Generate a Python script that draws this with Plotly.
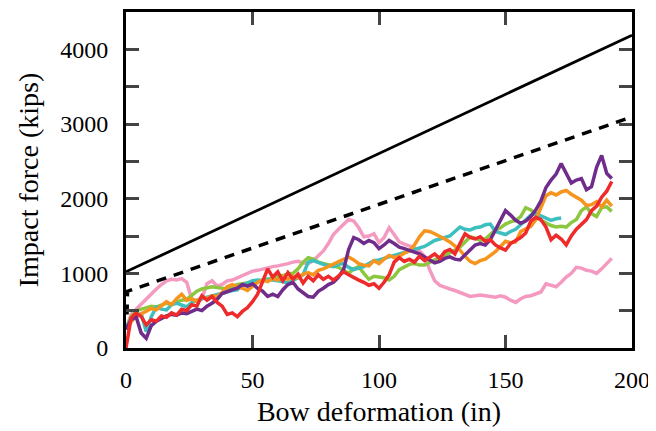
import plotly.graph_objects as go

# x positions (in) for the measured curves
x_in = list(range(0, 194, 2))

red = [0, 400, 470, 420, 310, 380, 360, 430, 410, 470, 440, 520, 500, 580, 560, 700, 640, 690, 610, 560,
       450, 470, 420, 490, 540, 620, 720, 900, 1060, 950, 1020, 900, 1010, 920, 990, 870, 960, 900, 980, 920,
       960, 910, 960, 1020, 980, 940, 910, 880, 840, 860, 800, 880, 980, 1150, 1210, 1160, 1190, 1150, 1230, 1170,
       1210, 1260, 1200, 1290, 1320, 1260, 1400, 1530, 1480, 1460, 1490, 1430, 1450, 1380, 1340, 1310, 1400, 1440, 1480, 1540,
       1700, 1750, 1720, 1620, 1450, 1510, 1460, 1380, 1500, 1590, 1660, 1720, 1840, 1900, 2020, 2100, 2230]

purple = [250, 380, 420, 200, 130, 300, 360, 400, 430, 450, 440, 470, 460, 490, 520, 500, 560, 600, 650, 730,
          760, 780, 800, 850, 830, 860, 800, 760, 690, 720, 690, 780, 850, 880, 790, 740, 690, 680, 760, 800,
          850, 880, 950, 1050, 1320, 1480, 1450, 1400, 1440, 1410, 1330, 1380, 1440, 1400, 1350, 1330, 1310, 1280, 1260, 1220,
          1180, 1140, 1160, 1200, 1220, 1190, 1180, 1250, 1310, 1380, 1400, 1380, 1450, 1580, 1720, 1840, 1780, 1710, 1670, 1700,
          1760, 1850, 1970, 2150, 2250, 2330, 2470, 2340, 2210, 2250, 2270, 2120, 2160, 2420, 2580, 2340, 2270]

orange = [250, 350, 420, 460, 500, 530, 510, 560, 620, 580, 660, 720, 640, 660, 620, 690, 660, 700, 690, 740,
          820, 850, 830, 800, 770, 830, 880, 910, 890, 930, 910, 950, 920, 960, 940, 990, 1010, 980, 1040, 1060,
          1090, 1120, 1150, 1180, 1220, 1180, 1130, 1110, 1100, 1170, 1130, 1190, 1240, 1210, 1230, 1270, 1300, 1380, 1490, 1570,
          1560, 1530, 1500, 1460, 1420, 1370, 1310, 1230, 1160, 1130, 1170, 1190, 1240, 1290, 1360, 1430, 1410, 1420, 1560, 1600,
          1630, 1720, 1880, 2040, 2080, 2050, 2090, 2110, 2060, 2020, 1980, 1910, 1920, 1960, 1890, 1980, 1900]

green = [250, 420, 500, 520, 540, 560, 550, 580, 600, 590, 620, 640, 650, 700, 760, 790, 800, 820, 810, 800,
         790, 820, 850, 860, 870, 880, 900, 910, 920, 940, 950, 970, 990, 1000, 1060, 1150, 1210, 1190, 1150, 1130,
         1110, 1090, 1080, 1040, 1000, 1060, 1090, 1000, 920, 960, 950, 940, 910, 960, 1050, 1080, 1120, 1130, 1110, 1110,
         1150, 1180, 1200, 1240, 1270, 1310, 1350, 1420, 1490, 1470, 1440, 1460, 1520, 1580, 1610, 1660, 1690, 1710, 1760, 1880,
         1850, 1790, 1710, 1670, 1640, 1620, 1630, 1620, 1680, 1720, 1840, 1890, 1800, 1760, 1880, 1890, 1830]

cyan = [250, 400, 440, 460, 220, 420, 550, 520, 510, 580, 600, 570, 550, 610, 640, 660, 680, 700, 710, 730,
        750, 770, 780, 840, 870, 900, 910, 900, 920, 910, 910, 890, 870, 900, 940, 980, 1150, 1170, 1140, 1120,
        1100, 1090, 1120, 1130, 1080, 1050, 1070, 1090, 1130, 1170, 1180, 1200, 1220, 1240, 1260, 1280, 1300, 1310, 1340, 1360,
        1400, 1440, 1460, 1480, 1500, 1560, 1620, 1590, 1580, 1610, 1620, 1650, 1660, 1560, 1540, 1520, 1560, 1590, 1650, 1720,
        1780, 1800, 1770, 1750, 1710, 1730, 1740]

pink = [250, 450, 520, 590, 650, 720, 790, 850, 900, 920, 910, 930, 880, 650, 640, 660, 860, 900, 830, 850,
        900, 910, 940, 970, 1010, 1030, 1040, 1060, 1080, 1090, 1100, 1110, 1130, 1150, 1160, 1140, 1130, 1170, 1230, 1300,
        1400, 1520, 1590, 1650, 1720, 1700, 1610, 1490, 1500, 1530, 1410, 1480, 1610, 1520, 1420, 1390, 1370, 1340, 1300, 1230,
        1050, 900, 840, 810, 790, 770, 740, 720, 690, 700, 710, 700, 690, 680, 700, 680, 640, 610, 660, 690,
        700, 720, 750, 860, 840, 820, 880, 950, 1000, 1080, 1070, 1040, 1030, 1000, 1060, 1130, 1200]

# design lines (endpoints)
solid_x = [0, 200]
solid_y = [1020, 4190]
dash_x = [0.4, 0.6, 200]
dash_y = [450, 760, 3095]

series = [
    ("pink", pink, "#F49AC1"),
    ("green", green, "#8DC63F"),
    ("cyan", cyan, "#3DBFBF"),
    ("orange", orange, "#F7941D"),
    ("purple", purple, "#702C8A"),
    ("red", red, "#EE2A2A"),
]

fig = go.Figure()
for name, vals, col in series:
    fig.add_trace(go.Scatter(x=x_in[:len(vals)], y=vals, mode="lines", name=name,
                             line=dict(color=col, width=3.5)))

fig.add_trace(go.Scatter(x=solid_x, y=solid_y, mode="lines", line=dict(color="black", width=2.8)))
fig.add_trace(go.Scatter(x=dash_x, y=dash_y, mode="lines",
                         line=dict(color="black", width=3.5, dash="10px,8px")))

tickfont = dict(family="Liberation Serif, Times New Roman, serif", size=24, color="black")
titlefont = dict(family="Liberation Serif, Times New Roman, serif", size=28, color="black")

# page body adds an 8px offset, so the figure is 8px smaller and margins shifted
fig.update_layout(
    width=648, height=423,
    margin=dict(l=118, r=24, t=4, b=83, autoexpand=False),
    plot_bgcolor="white", paper_bgcolor="white",
    showlegend=False,
    font=tickfont,
)
fig.update_xaxes(range=[0, 200], tickvals=[0, 50, 100, 150, 200], ticks="inside", ticklen=13, tickwidth=2.5,
                 showline=True, linewidth=3, linecolor="black", mirror="ticks", showgrid=False, zeroline=False,
                 automargin=False,
                 title=dict(text="Bow deformation (in)", font=titlefont, standoff=10), tickfont=tickfont,
                 ticklabelstandoff=8)
yt = [0, 500, 1000, 1500, 2000, 2500, 3000, 3500, 4000, 4500]
ytt = ["0", "", "1000", "", "2000", "", "3000", "", "4000", ""]
fig.update_yaxes(range=[0, 4500], tickvals=yt, ticktext=ytt, ticks="inside", ticklen=13, tickwidth=2.5,
                 showline=True, linewidth=3, linecolor="black", mirror="ticks", showgrid=False, zeroline=False,
                 automargin=False,
                 title=dict(text="Impact force (kips)", font=titlefont, standoff=14), tickfont=tickfont,
                 ticklabelstandoff=10)

fig.write_html("out.html")
